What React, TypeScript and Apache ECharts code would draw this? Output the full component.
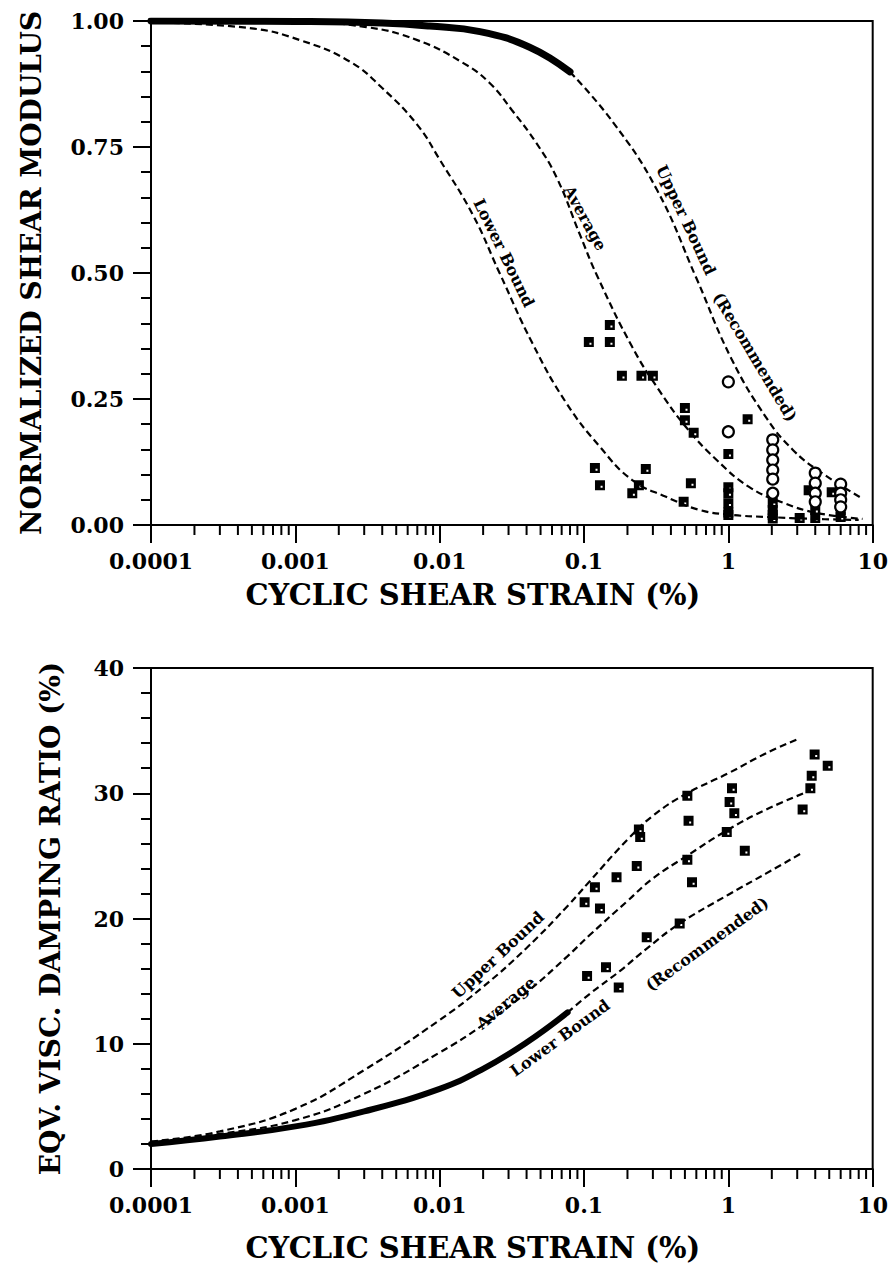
import React, { useEffect, useRef } from 'react';
import * as echarts from 'echarts';

const FONT = 'DejaVu Serif';

// axis ticks
const xTickLabels = ['0.0001', '0.001', '0.01', '0.1', '1', '10'];
const minorDecades = [0.0001, 0.001, 0.01, 0.1, 1];
const minorMultipliers = [2, 3, 4, 5, 6, 7, 8, 9];

// ---------- Top: normalized shear modulus ----------
const modulusLowerBound = [
  [0.0001, 0.997], [0.00048, 0.986], [0.00108, 0.962], [0.0024, 0.919], [0.004, 0.867],
  [0.007, 0.794], [0.01, 0.725], [0.017, 0.615], [0.026, 0.5], [0.044, 0.36],
  [0.0754, 0.242], [0.129, 0.155], [0.216, 0.089], [0.37, 0.056], [0.63, 0.03],
  [1.07, 0.02], [1.83, 0.016], [4.0, 0.012], [8.0, 0.01],
];
const modulusAverage = [
  [0.0001, 1.0], [0.001, 0.998], [0.0031, 0.988], [0.007, 0.962], [0.0145, 0.917],
  [0.0222, 0.877], [0.0317, 0.823], [0.0467, 0.758], [0.0645, 0.69], [0.094, 0.575],
  [0.123, 0.495], [0.216, 0.353], [0.33, 0.268], [0.51, 0.194], [0.83, 0.129],
  [1.4, 0.075], [2.4, 0.044], [4.1, 0.024], [8.5, 0.012],
];
const modulusUpperSolid = [
  [0.0001, 1.0], [0.001, 0.999], [0.004, 0.996], [0.0085, 0.99], [0.019, 0.979],
  [0.042, 0.948], [0.08, 0.899],
];
const modulusUpperDashed = [
  [0.08, 0.899], [0.158, 0.8], [0.32, 0.665], [0.6, 0.49], [1.05, 0.33],
  [1.86, 0.21], [2.78, 0.15], [4.1, 0.11], [8.3, 0.054],
];
const modulusSquares = [
  [0.151, 0.397], [0.108, 0.363], [0.151, 0.363], [0.183, 0.296], [0.25, 0.296],
  [0.3, 0.296], [0.5, 0.232], [0.5, 0.208], [0.575, 0.183], [1.36, 0.21],
  [1.0, 0.141], [0.119, 0.113], [0.129, 0.079], [0.268, 0.111], [0.216, 0.063],
  [0.24, 0.079], [0.55, 0.083], [0.49, 0.046], [1.0, 0.075], [1.0, 0.063],
  [1.0, 0.043], [1.0, 0.025], [1.0, 0.02], [2.03, 0.044], [2.03, 0.03],
  [2.03, 0.02], [2.03, 0.013], [3.12, 0.014], [3.6, 0.069], [4.0, 0.03],
  [4.0, 0.014], [5.2, 0.065], [6.0, 0.03], [6.0, 0.016],
];
const modulusCircles = [
  [1.0, 0.284], [1.0, 0.185], [2.03, 0.169], [2.03, 0.149], [2.03, 0.129],
  [2.03, 0.109], [2.03, 0.091], [2.03, 0.063], [4.0, 0.103], [4.0, 0.083],
  [4.0, 0.063], [4.0, 0.046], [6.0, 0.081], [6.0, 0.063], [6.0, 0.05], [6.0, 0.036],
];

// ---------- Bottom: damping ratio ----------
const dampingUpperBound = [
  [0.0001, 2.2], [0.0003, 3.0], [0.001, 4.8], [0.003, 7.9], [0.01, 11.9],
  [0.02, 14.55], [0.04, 17.65], [0.077, 21.0], [0.11, 23.0], [0.2, 26.3],
  [0.3, 28.2], [0.5, 29.9], [1.0, 31.6], [1.83, 33.2], [3.0, 34.3],
];
const dampingAverage = [
  [0.0001, 2.15], [0.0003, 2.8], [0.001, 3.9], [0.003, 6.0], [0.01, 9.3],
  [0.02, 11.5], [0.04, 14.1], [0.077, 17.0], [0.11, 18.7], [0.2, 21.4],
  [0.3, 23.2], [0.5, 24.9], [1.0, 27.1], [1.83, 28.7], [3.5, 30.1],
];
const dampingLowerSolid = [
  [0.0001, 2.0], [0.0003, 2.6], [0.001, 3.4], [0.003, 4.6], [0.01, 6.4],
  [0.02, 8.0], [0.04, 10.1], [0.077, 12.5],
];
const dampingLowerDashed = [
  [0.077, 12.5], [0.11, 14.0], [0.177, 15.8], [0.272, 17.6], [0.46, 19.6],
  [1.0, 21.9], [1.83, 23.6], [3.2, 25.2],
];
const dampingSquares = [
  [3.96, 33.1], [4.88, 32.2], [3.78, 31.4], [3.7, 30.4], [3.27, 28.7],
  [1.06, 30.4], [1.02, 29.3], [1.1, 28.4], [1.3, 25.4], [0.52, 29.8],
  [0.53, 27.8], [0.24, 27.1], [0.245, 26.5], [0.232, 24.2], [0.52, 24.7],
  [0.56, 22.9], [0.975, 26.9], [0.168, 23.3], [0.119, 22.5], [0.101, 21.3],
  [0.129, 20.8], [0.46, 19.6], [0.272, 18.5], [0.105, 15.4], [0.142, 16.1],
  [0.174, 14.5],
];

const squareSymbol = 'path://M0,0H10V10H0Z M5.6,5.6V7.6H7.6V5.6Z';

const minorTickData = minorDecades.flatMap((d) =>
  minorMultipliers.map((m) => [Number((d * m).toPrecision(3)), 0])
);

const dashed = { color: '#000', width: 2.2, type: [7, 4] as number[] };

function lineSeries(data: number[][], idx: number, style: any, name: string) {
  return {
    name,
    type: 'line',
    xAxisIndex: idx,
    yAxisIndex: idx,
    data,
    smooth: 0.45,
    symbol: 'none',
    showSymbol: false,
    lineStyle: style,
    silent: true,
    z: 3,
  };
}

function minorTickSeries(idx: number) {
  return {
    type: 'custom',
    xAxisIndex: idx,
    yAxisIndex: idx,
    clip: false,
    silent: true,
    data: minorTickData,
    encode: { x: 0, y: 1 },
    renderItem: (_params: any, api: any) => {
      const p = api.coord([api.value(0), 0]);
      return {
        type: 'line',
        shape: { x1: p[0], y1: p[1], x2: p[0], y2: p[1] + 10 },
        style: { stroke: '#000', lineWidth: 2 },
      };
    },
  };
}

function xAxis(idx: number, nameGap: number) {
  return {
    type: 'log',
    logBase: 10,
    gridIndex: idx,
    min: 0.0001,
    max: 10,
    name: 'CYCLIC SHEAR STRAIN (%)',
    nameLocation: 'middle',
    nameGap,
    nameTextStyle: {
      fontFamily: FONT, fontWeight: 'bold', fontSize: 29, color: '#000', padding: [0, 78, 0, 0],
    },
    axisLine: { lineStyle: { color: '#000', width: 2 } },
    axisTick: { inside: false, length: 18, lineStyle: { color: '#000', width: 2 } },
    axisLabel: {
      margin: 25,
      fontFamily: FONT,
      fontWeight: 'bold',
      fontSize: 22,
      color: '#000',
      formatter: (v: number) => xTickLabels[Math.round(Math.log10(v)) + 4] ?? '',
    },
    splitLine: { show: false },
  };
}

function yAxis(idx: number, max: number, interval: number, name: string, nameGap: number, digits: number) {
  return {
    type: 'value',
    gridIndex: idx,
    min: 0,
    max,
    interval,
    name,
    nameLocation: 'middle',
    nameRotate: 90,
    nameGap,
    nameTextStyle: { fontFamily: FONT, fontWeight: 'bold', fontSize: 28, color: '#000' },
    axisLine: { show: true, lineStyle: { color: '#000', width: 2 } },
    axisTick: { show: true, inside: false, length: 18, lineStyle: { color: '#000', width: 2 } },
    minorTick: { show: true, splitNumber: 5, length: 10, lineStyle: { color: '#000', width: 2 } },
    axisLabel: {
      margin: 27,
      fontFamily: FONT,
      fontWeight: 'bold',
      fontSize: 22,
      color: '#000',
      formatter: (v: number) => v.toFixed(digits),
    },
    splitLine: { show: false },
    minorSplitLine: { show: false },
  };
}

function label(text: string, x: number, y: number, deg: number) {
  return {
    type: 'text',
    x,
    y,
    rotation: (deg * Math.PI) / 180,
    z: 10,
    style: {
      text,
      fontFamily: FONT,
      fontWeight: 'bold',
      fontSize: 16,
      fill: '#000',
      align: 'center',
      verticalAlign: 'middle',
    },
  };
}

export default function App() {
  const ref = useRef<HTMLDivElement>(null);
  useEffect(() => {
    if (!ref.current) return;
    const chart = echarts.init(ref.current, null, { renderer: 'svg' });
    chart.setOption({
      animation: false,
      backgroundColor: '#fff',
      textStyle: { fontFamily: FONT },
      grid: [
        { left: 151, top: 21, width: 722, height: 504, show: true, borderColor: '#000', borderWidth: 2 },
        { left: 151, top: 668, width: 722, height: 501, show: true, borderColor: '#000', borderWidth: 2 },
      ],
      xAxis: [xAxis(0, 55), xAxis(1, 64)],
      yAxis: [
        yAxis(0, 1, 0.25, 'NORMALIZED SHEAR MODULUS', 106, 2),
        yAxis(1, 40, 10, 'EQV. VISC. DAMPING RATIO (%)', 87, 0),
      ],
      series: [
        lineSeries(modulusLowerBound, 0, dashed, 'Lower Bound'),
        lineSeries(modulusAverage, 0, dashed, 'Average'),
        lineSeries(modulusUpperSolid, 0, { color: '#000', width: 7, cap: 'round' }, 'Upper Bound (solid)'),
        lineSeries(modulusUpperDashed, 0, dashed, 'Upper Bound (Recommended)'),
        {
          type: 'scatter', xAxisIndex: 0, yAxisIndex: 0, data: modulusSquares,
          symbol: squareSymbol, symbolSize: 10, itemStyle: { color: '#000', opacity: 1 }, z: 5, silent: true,
        },
        {
          type: 'scatter', xAxisIndex: 0, yAxisIndex: 0, data: modulusCircles,
          symbol: 'circle', symbolSize: 11,
          itemStyle: { color: '#fff', borderColor: '#000', borderWidth: 2.2, opacity: 1 }, z: 5, silent: true,
        },
        minorTickSeries(0),
        lineSeries(dampingUpperBound, 1, dashed, 'Upper Bound'),
        lineSeries(dampingAverage, 1, dashed, 'Average'),
        lineSeries(dampingLowerSolid, 1, { color: '#000', width: 6, cap: 'round' }, 'Lower Bound (solid)'),
        lineSeries(dampingLowerDashed, 1, dashed, 'Lower Bound (Recommended)'),
        {
          type: 'scatter', xAxisIndex: 1, yAxisIndex: 1, data: dampingSquares,
          symbol: squareSymbol, symbolSize: 10, itemStyle: { color: '#000', opacity: 1 }, z: 5, silent: true,
        },
        minorTickSeries(1),
      ],
      graphic: [
        label('Lower Bound', 504, 253, -64),
        label('Average', 585, 218, -61),
        label('Upper Bound', 686, 220, -65),
        label('(Recommended)', 755, 357, -59),
        label('Upper Bound', 498, 955, 43),
        label('Average', 506, 1003, 40),
        label('Lower Bound', 560, 1038, 36),
        label('(Recommended)', 707, 944, 36),
      ],
    });
    return () => chart.dispose();
  }, []);
  return (
    <div
      ref={ref}
      style={{ position: 'absolute', left: 0, top: 0, width: 891, height: 1263, background: '#fff' }}
    />
  );
}
